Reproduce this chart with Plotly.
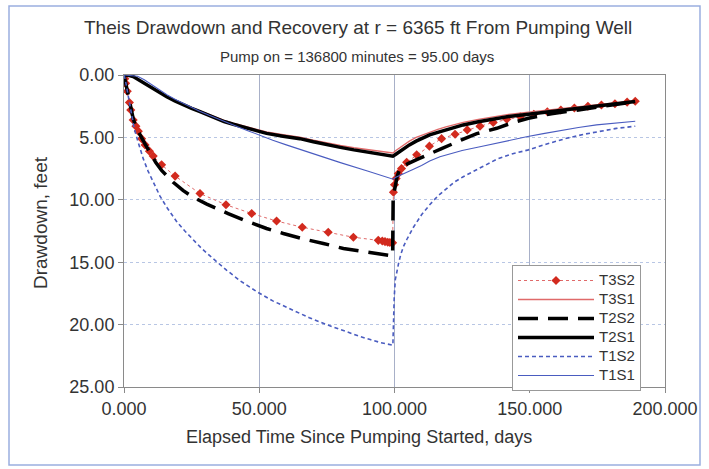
import plotly.graph_objects as go

# ---------------- data ----------------
t3s2_t = [0, 0.3, 0.6, 1.2, 2.0, 2.5, 3.4, 4.4, 5.3, 6.5, 7.8, 9.4, 10.8, 13.9, 18.9, 28.1,
          37.7, 47.2, 56.4, 65.9, 75.5, 84.8, 94.0, 95.5, 96.5, 97.5, 98.3, 99.3, 99.6, 100.0,
          100.6, 101.4, 102.6, 104.5, 108.2, 112.9, 117.4, 122.4, 126.9, 131.6, 136.5, 141.5,
          146.5, 151.5, 156.5, 161.5, 166.5, 171.5, 176.5, 181.5, 186.0, 189.0]
t3s2_s = [0, 0.3, 0.67, 1.3, 2.2, 2.8, 3.6, 4.1, 4.5, 5.1, 5.6, 6.1, 6.5, 7.2, 8.1, 9.5,
          10.4, 11.1, 11.7, 12.2, 12.6, 13.0, 13.25, 13.3, 13.35, 13.4, 13.42, 13.45, 9.4, 8.8,
          8.3, 7.9, 7.5, 7.0, 6.4, 5.7, 5.1, 4.75, 4.4, 4.1, 3.8, 3.55,
          3.35, 3.15, 2.95, 2.8, 2.65, 2.5, 2.4, 2.3, 2.17, 2.1]

t2s1_t = [0, 1, 2, 3.4, 4.5, 6, 7.8, 9.6, 12.5, 15.8, 18.8, 21.9, 25, 28.1, 31, 34, 37,
          40.4, 43.5, 46.6, 49.5, 52.7, 58.8, 65, 70, 75, 80, 85, 92, 99.4,
          100.5, 101.5, 103.3, 105.5, 108, 110.5, 113, 116, 119, 122, 125.4, 131, 137.8,
          143, 149.5, 156, 163.6, 170, 176, 182, 189]
t2s1_s = [0, 0.01, 0.05, 0.13, 0.28, 0.45, 0.7, 0.94, 1.35, 1.74, 2.08, 2.4, 2.68, 2.94,
          3.22, 3.5, 3.73, 3.95, 4.15, 4.35, 4.52, 4.68, 4.9, 5.1, 5.35, 5.6, 5.8, 6.0, 6.25,
          6.5, 6.35, 6.2, 5.9, 5.6, 5.3, 5.05, 4.8, 4.6, 4.4, 4.2, 4.0, 3.75, 3.47,
          3.3, 3.15, 2.97, 2.8, 2.62, 2.45, 2.3, 2.13]

t3s1_t = t2s1_t
t3s1_s = [0, 0.01, 0.05, 0.12, 0.27, 0.43, 0.67, 0.9, 1.3, 1.7, 2.03, 2.35, 2.62, 2.88,
          3.15, 3.42, 3.64, 3.86, 4.05, 4.24, 4.4, 4.56, 4.78, 4.98, 5.22, 5.45, 5.65, 5.83,
          6.05, 6.25, 6.05, 5.9, 5.6, 5.3, 5.0, 4.78, 4.55, 4.35, 4.15, 3.97, 3.8, 3.55, 3.3,
          3.13, 2.98, 2.82, 2.65, 2.5, 2.35, 2.22, 2.08]

t2s2_t = [0, 0.5, 1.0, 1.6, 2.4, 3.4, 4.5, 5.9, 7.7, 9.6, 11.7, 13.9, 16, 18.2, 21.8, 25.6,
          30.6, 34.5, 38.5, 44, 48, 52.7, 58.9, 63, 67.5, 73.7, 81.1, 87.2, 92, 95.9, 99.3,
          99.5, 100, 101, 102, 105, 109, 113, 117.4, 124.8, 130.4, 137.8, 143.9, 149.5,
          158, 168, 178, 189]
t2s2_s = [0, 0.5, 1.15, 1.9, 2.7, 3.5, 4.2, 4.8, 5.5, 6.2, 7.0, 7.65, 8.15, 8.6, 9.25, 9.8,
          10.35, 10.75, 11.1, 11.6, 11.95, 12.3, 12.7, 12.95, 13.2, 13.5, 13.9, 14.1, 14.25,
          14.4, 14.5, 9.8, 9.1, 8.1, 7.5, 7.1, 6.7, 6.35, 5.9, 5.2, 4.7, 4.27, 3.8, 3.47,
          3.1, 2.8, 2.5, 2.13]

t1s2_t = [0, 0.5, 1.5, 2.8, 3.7, 4.7, 5.9, 7.1, 8.9, 10.8, 13.3, 15.8, 19.5, 22.5, 25.6,
          28.7, 31.8, 35, 38, 43, 49, 55, 62.6, 68.5, 74.9, 81, 87.2, 91, 95, 99.4,
          99.5, 99.6, 99.75, 99.9, 100.3, 100.8, 101.5, 102.3, 103.3, 104.5, 105.7, 107,
          110, 113, 116, 119.3, 122, 125.4, 128.5, 131.6, 137.8, 143, 149.5, 156, 163.6,
          170, 176, 182, 189]
t1s2_s = [0, 0.4, 1.6, 3.2, 4.2, 5.0, 5.9, 6.7, 7.7, 8.6, 9.7, 10.6, 11.75, 12.5, 13.2,
          13.9, 14.5, 15.1, 15.65, 16.5, 17.35, 18.1, 18.85, 19.45, 20.0, 20.5, 20.95, 21.2,
          21.45, 21.65, 20.8, 19.9, 18.8, 17.8, 16.4, 15.7, 15.1, 14.4, 13.75, 13.2, 12.7,
          12.2, 11.2, 10.4, 9.7, 9.1, 8.6, 8.15, 7.8, 7.5, 6.75, 6.35, 6.0, 5.55, 5.07,
          4.75, 4.5, 4.28, 4.1]

t1s1_t = [0, 2, 3.5, 5, 7.5, 10, 13, 16, 19, 22, 25, 28, 31.5, 35, 38.5, 42, 46, 49.7, 55,
          60, 65, 71, 80, 90, 99.5, 100.5, 102.6, 104.5, 107, 110, 113, 116.8, 121, 125,
          131.6, 140, 148.8, 155, 162.4, 168, 174.7, 182, 189]
t1s1_s = [0, 0.02, 0.05, 0.1, 0.38, 0.75, 1.2, 1.6, 1.97, 2.3, 2.6, 2.9, 3.23, 3.55, 3.85,
          4.15, 4.48, 4.8, 5.22, 5.6, 5.97, 6.4, 7.02, 7.7, 8.35, 8.2, 8.0, 7.85, 7.55, 7.25,
          6.9, 6.55, 6.3, 6.05, 5.75, 5.35, 4.95, 4.7, 4.4, 4.2, 4.0, 3.85, 3.7]

series_names = ["T3S2", "T3S1", "T2S2", "T2S1", "T1S2", "T1S1"]
title_text = "Theis Drawdown and Recovery at r = 6365 ft From Pumping Well"
subtitle_text = "Pump on = 136800 minutes = 95.00 days"
x_title = "Elapsed Time Since Pumping Started, days"
y_title = "Drawdown, feet"

# ---------------- figure ----------------
FONT = "Liberation Sans, Arial, sans-serif"
RED = "#d22a1e"
RED_L = "#e06a6a"
BLUE = "#4a5cc0"


def lname(n):
    return '<span style="font-size:15px">' + n + '</span>'


fig = go.Figure()
fig.add_trace(go.Scatter(x=t3s2_t, y=t3s2_s, name=lname(series_names[0]), mode="lines+markers",
                         line=dict(color=RED_L, width=1, dash="dot"),
                         marker=dict(symbol="diamond", size=7, color=RED)))
fig.add_trace(go.Scatter(x=t3s1_t, y=t3s1_s, name=lname(series_names[1]), mode="lines",
                         line=dict(color=RED_L, width=1.3)))
fig.add_trace(go.Scatter(x=t2s2_t, y=t2s2_s, name=lname(series_names[2]), mode="lines",
                         line=dict(color="black", width=3.5, dash="20px,10px")))
fig.add_trace(go.Scatter(x=t2s1_t, y=t2s1_s, name=lname(series_names[3]), mode="lines",
                         line=dict(color="black", width=3.5)))
fig.add_trace(go.Scatter(x=t1s2_t, y=t1s2_s, name=lname(series_names[4]), mode="lines",
                         line=dict(color=BLUE, width=1.6, dash="4px,3px")))
fig.add_trace(go.Scatter(x=t1s1_t, y=t1s1_s, name=lname(series_names[5]), mode="lines",
                         line=dict(color=BLUE, width=1.1)))

L, R, T, B = 124, 44, 75, 82
W, H = 709, 469
pw, ph = W - L - R, H - T - B


def px(xp):
    return (xp - L) / pw


def py(yp):
    return (H - B - yp) / ph


fig.update_layout(
    width=W, height=H,
    margin=dict(l=L, r=R, t=T, b=B),
    paper_bgcolor="white", plot_bgcolor="white",
    font=dict(family=FONT, color="#333333"),
    showlegend=True,
    legend=dict(x=px(512), y=py(265), xanchor="left", yanchor="top",
                bgcolor="white", bordercolor="#999999", borderwidth=1,
                font=dict(size=12, color="#333333"), itemwidth=76,
                entrywidth=150, entrywidthmode="pixels",
                tracegroupgap=0),
    xaxis=dict(range=[0, 200], dtick=50, tick0=0, tickformat=".3f",
               showgrid=True, gridcolor="#a8b0c8", gridwidth=1,
               showline=True, linecolor="#8a8a8a", linewidth=1, mirror=True,
               ticks="outside", ticklen=5, tickcolor="#8a8a8a",
               tickfont=dict(size=18, color="#333333"), zeroline=False),
    yaxis=dict(range=[25, 0], dtick=5, tick0=0, tickformat=".2f",
               showgrid=True, gridcolor="#b8c6e4", gridwidth=1, griddash="dot",
               showline=True, linecolor="#8a8a8a", linewidth=1, mirror=True,
               ticks="outside", ticklen=5, tickcolor="#8a8a8a",
               tickfont=dict(size=18, color="#333333"), zeroline=False),
    annotations=[
        dict(text=title_text, x=px(357.5), y=py(27), xref="paper", yref="paper",
             xanchor="center", yanchor="middle", showarrow=False,
             font=dict(size=19, color="#333333")),
        dict(text=subtitle_text, x=px(357), y=py(56), xref="paper", yref="paper",
             xanchor="center", yanchor="middle", showarrow=False,
             font=dict(size=15, color="#333333")),
        dict(text=x_title, x=px(359), y=py(437), xref="paper", yref="paper",
             xanchor="center", yanchor="middle", showarrow=False,
             font=dict(size=18, color="#333333")),
        dict(text=y_title, x=px(40), y=py(223), xref="paper", yref="paper",
             xanchor="center", yanchor="middle", showarrow=False, textangle=-90,
             font=dict(size=19, color="#333333")),
    ],
    shapes=[
        dict(type="rect", xref="paper", yref="paper",
             x0=px(9), x1=px(700), y0=py(465), y1=py(6),
             line=dict(color="#9aaee0", width=1.5), fillcolor="rgba(0,0,0,0)", layer="below"),
    ],
)

fig.write_html("out.html")
